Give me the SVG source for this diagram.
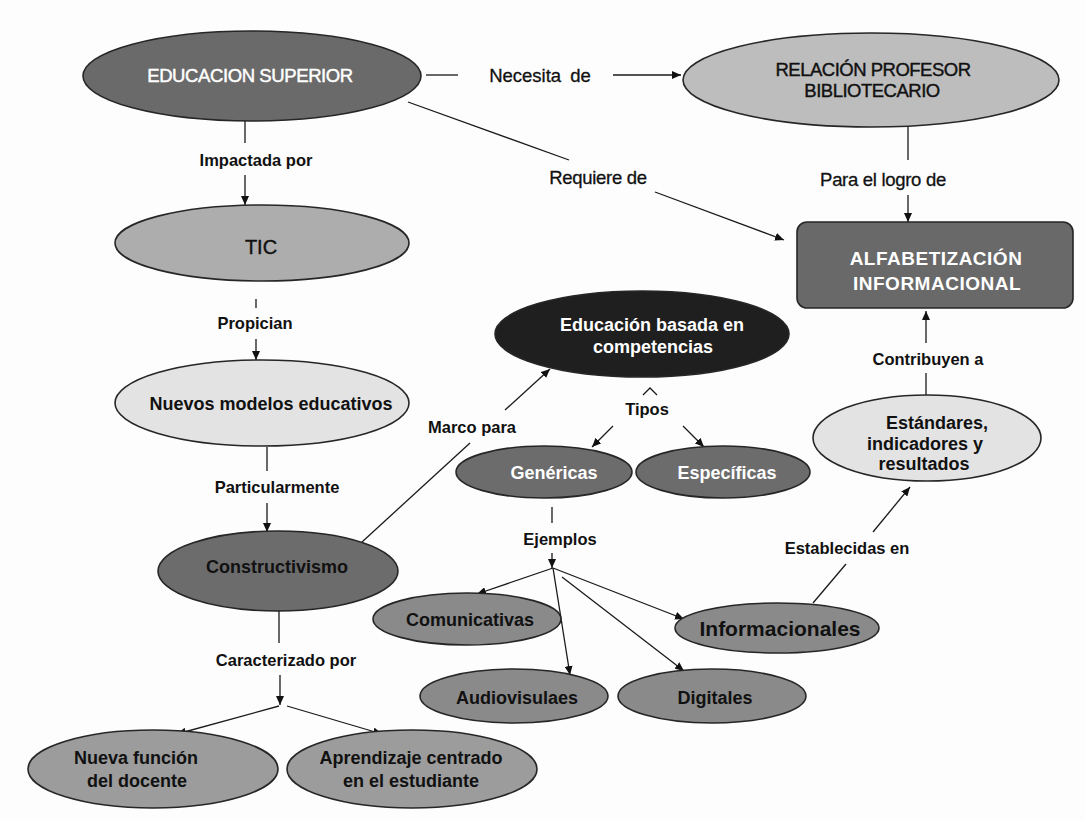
<svg xmlns="http://www.w3.org/2000/svg" width="1085" height="820" viewBox="0 0 1085 820">
  <defs>
    <marker id="ah" markerWidth="9" markerHeight="8" refX="9" refY="4" orient="auto" markerUnits="userSpaceOnUse">
      <path d="M0,0 L9,4 L0,8 z" fill="#111"/>
    </marker>
    <style>
      .nd { stroke: #262626; stroke-width: 1.6; }
      .t { font-family: "Liberation Sans", Arial, sans-serif; text-anchor: middle; }
      .w { fill: #ffffff; }
      .k { fill: #111111; }
      .b { font-weight: bold; }
      .hw { stroke: #ffffff; stroke-width: 0.45; }
      .hk { stroke: #111111; stroke-width: 0.4; }
      .lb { font-family: "Liberation Sans", Arial, sans-serif; font-weight: bold; font-size: 16.5px; fill: #111; text-anchor: middle; }
      .lr { font-family: "Liberation Sans", Arial, sans-serif; font-size: 18.5px; fill: #111; stroke: #111; stroke-width: 0.3; text-anchor: middle; }
      .cn { stroke: #1a1a1a; stroke-width: 1.3; fill: none; }
      .ar { marker-end: url(#ah); }
    </style>
  </defs>
  <rect x="0" y="0" width="1085" height="820" fill="#fdfdfd"/>

  <g id="connectors">
    <line class="cn" x1="426" y1="75" x2="458" y2="75"/>
    <line class="cn ar" x1="613" y1="75" x2="681" y2="75"/>
    <line class="cn" x1="408" y1="102" x2="569" y2="160"/>
    <line class="cn ar" x1="655" y1="192" x2="784" y2="240"/>
    <line class="cn" x1="908" y1="127" x2="908" y2="160"/>
    <line class="cn ar" x1="908" y1="195" x2="908" y2="222"/>
    <line class="cn" x1="245" y1="121" x2="245" y2="143"/>
    <line class="cn ar" x1="245" y1="175" x2="245" y2="205"/>
    <line class="cn" x1="256" y1="299" x2="256" y2="308"/>
    <line class="cn ar" x1="256" y1="339" x2="256" y2="360"/>
    <line class="cn" x1="267" y1="447" x2="267" y2="471"/>
    <line class="cn ar" x1="267" y1="503" x2="267" y2="532"/>
    <line class="cn" x1="362" y1="542" x2="470" y2="443"/>
    <line class="cn ar" x1="505" y1="410" x2="550" y2="369"/>
    <polyline class="cn" points="643,395 650,388 657,395"/>
    <line class="cn ar" x1="613" y1="426" x2="592" y2="447"/>
    <line class="cn ar" x1="683" y1="426" x2="704" y2="447"/>
    <line class="cn" x1="552" y1="507" x2="552" y2="523"/>
    <line class="cn ar" x1="552" y1="553" x2="552" y2="568"/>
    <line class="cn ar" x1="553" y1="568" x2="477" y2="594"/>
    <line class="cn ar" x1="553" y1="568" x2="570" y2="675"/>
    <line class="cn ar" x1="562" y1="577" x2="684" y2="671"/>
    <line class="cn ar" x1="553" y1="568" x2="684" y2="619"/>
    <line class="cn" x1="279" y1="611" x2="279" y2="643"/>
    <line class="cn ar" x1="280" y1="675" x2="280" y2="705"/>
    <line class="cn ar" x1="279" y1="706" x2="177" y2="734"/>
    <line class="cn ar" x1="287" y1="706" x2="382" y2="734"/>
    <line class="cn" x1="813" y1="603" x2="846" y2="564"/>
    <line class="cn ar" x1="873" y1="532" x2="910" y2="487"/>
    <line class="cn" x1="926" y1="395" x2="926" y2="373"/>
    <line class="cn ar" x1="926" y1="343" x2="926" y2="311"/>

    <text class="lr" x="540" y="81.5" word-spacing="4">Necesita de</text>
    <text class="lr" x="598" y="183.5" letter-spacing="-0.3">Requiere de</text>
    <text class="lr" x="883" y="185.5" letter-spacing="-0.3">Para el logro de</text>
    <text class="lb" x="256" y="166">Impactada por</text>
    <text class="lb" x="255" y="329">Propician</text>
    <text class="lb" x="277" y="493">Particularmente</text>
    <text class="lb" x="472" y="433">Marco para</text>
    <text class="lb" x="647" y="415">Tipos</text>
    <text class="lb" x="560" y="545">Ejemplos</text>
    <text class="lb" x="286" y="666">Caracterizado por</text>
    <text class="lb" x="847" y="554">Establecidas en</text>
    <text class="lb" x="928" y="365">Contribuyen a</text>
  </g>

  <g id="n-educacion-superior">
    <ellipse class="nd" cx="252" cy="76" rx="169" ry="45" fill="#6a6a6a"/>
    <text class="t w hw" x="250" y="82" font-size="18.5" letter-spacing="-0.4">EDUCACION SUPERIOR</text>
  </g>
  <g id="n-relacion">
    <ellipse class="nd" cx="871" cy="80" rx="188" ry="47" fill="#bdbdbd"/>
    <text class="t k hk" x="873" y="75.5" font-size="18.5" letter-spacing="-0.5">RELACIÓN PROFESOR</text>
    <text class="t k hk" x="872" y="97" font-size="18.5" letter-spacing="-0.5">BIBLIOTECARIO</text>
  </g>
  <g id="n-alfabetizacion">
    <rect class="nd" x="797" y="222" width="276" height="86" rx="10" ry="10" fill="#696969"/>
    <text class="t w b" x="936" y="264.5" font-size="19" letter-spacing="0.5">ALFABETIZACIÓN</text>
    <text class="t w b" x="937" y="289.5" font-size="19" letter-spacing="0.5">INFORMACIONAL</text>
  </g>
  <g id="n-tic">
    <ellipse class="nd" cx="262" cy="243" rx="147" ry="38" fill="#adadad"/>
    <text class="t k hk" x="261" y="254" font-size="20">TIC</text>
  </g>
  <g id="n-nuevos-modelos">
    <ellipse class="nd" cx="262" cy="403" rx="147" ry="43" fill="#e3e3e3"/>
    <text class="t k b" x="271" y="409.5" font-size="18">Nuevos modelos educativos</text>
  </g>
  <g id="n-constructivismo">
    <ellipse class="nd" cx="278" cy="571" rx="120" ry="40" fill="#6c6c6c"/>
    <text class="t k b" x="277" y="572.5" font-size="18">Constructivismo</text>
  </g>
  <g id="n-educacion-competencias">
    <ellipse class="nd" cx="642" cy="334" rx="147" ry="43" fill="#1f1f1f"/>
    <text class="t w b" x="652" y="330.5" font-size="18">Educación basada en</text>
    <text class="t w b" x="653" y="352.5" font-size="18">competencias</text>
  </g>
  <g id="n-genericas">
    <ellipse class="nd" cx="544" cy="472" rx="88" ry="26" fill="#6c6c6c"/>
    <text class="t w b" x="554" y="478.5" font-size="18">Genéricas</text>
  </g>
  <g id="n-especificas">
    <ellipse class="nd" cx="723" cy="472" rx="87" ry="26" fill="#6c6c6c"/>
    <text class="t w b" x="727" y="478.5" font-size="18">Específicas</text>
  </g>
  <g id="n-estandares">
    <ellipse class="nd" cx="927" cy="438" rx="114" ry="43" fill="#e3e3e3"/>
    <text class="t k b" x="937" y="428.5" font-size="18">Estándares,</text>
    <text class="t k b" x="925" y="449.5" font-size="18">indicadores y</text>
    <text class="t k b" x="924" y="469.5" font-size="18">resultados</text>
  </g>
  <g id="n-comunicativas">
    <ellipse class="nd" cx="467" cy="619" rx="94" ry="26" fill="#8a8a8a"/>
    <text class="t k b" x="470" y="625.5" font-size="18">Comunicativas</text>
  </g>
  <g id="n-informacionales">
    <ellipse class="nd" cx="777" cy="628" rx="102" ry="25" fill="#8a8a8a"/>
    <text class="t k b" x="780" y="635.5" font-size="21">Informacionales</text>
  </g>
  <g id="n-audiovisuales">
    <ellipse class="nd" cx="514" cy="696" rx="94" ry="27" fill="#8a8a8a"/>
    <text class="t k b" x="517" y="703.5" font-size="18">Audiovisulaes</text>
  </g>
  <g id="n-digitales">
    <ellipse class="nd" cx="712" cy="696" rx="94" ry="27" fill="#8a8a8a"/>
    <text class="t k b" x="715" y="703.5" font-size="18">Digitales</text>
  </g>
  <g id="n-nueva-funcion">
    <ellipse class="nd" cx="153" cy="769" rx="125" ry="39" fill="#9c9c9c"/>
    <text class="t k b" x="136" y="763.5" font-size="18">Nueva función</text>
    <text class="t k b" x="137" y="786.5" font-size="18">del docente</text>
  </g>
  <g id="n-aprendizaje">
    <ellipse class="nd" cx="412" cy="769" rx="125" ry="39" fill="#9c9c9c"/>
    <text class="t k b" x="411" y="763.5" font-size="18">Aprendizaje centrado</text>
    <text class="t k b" x="411" y="786.5" font-size="18">en el estudiante</text>
  </g>
</svg>
